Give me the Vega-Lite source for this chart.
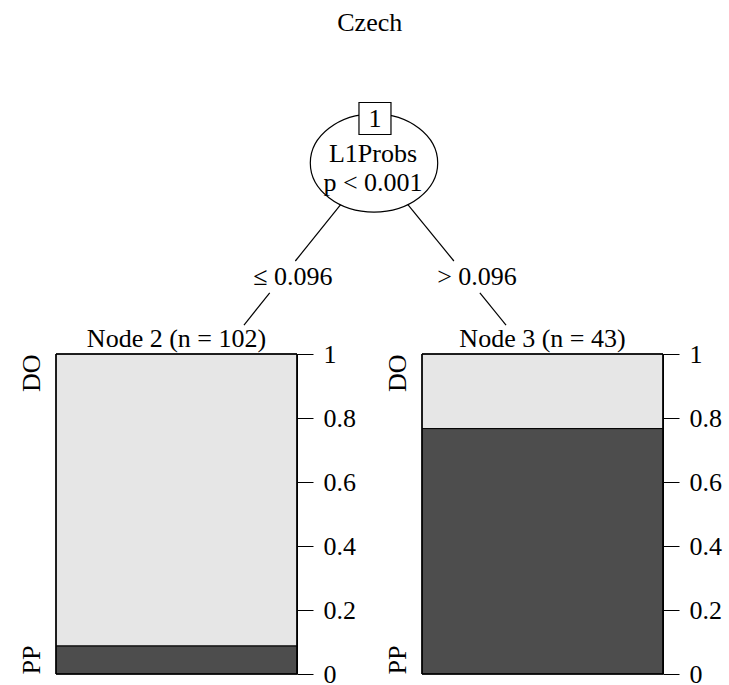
{
  "$schema": "https://vega.github.io/schema/vega-lite/v6.json",
  "padding": {"left": 18, "top": 10, "right": 5, "bottom": 0},
  "background": "white",
  "title": {
    "text": "Czech",
    "font": "Liberation Serif",
    "fontSize": 26,
    "fontWeight": "normal",
    "color": "black",
    "anchor": "middle",
    "offset": 60
  },
  "bounds": "flush",
  "spacing": 18,
  "vconcat": [
    {
      "width": 607,
      "height": 240,
      "layer": [
        {
          "data": {
            "values": [
              {"x1": 0.5239, "y1": 0.2792, "x2": 0.3943, "y2": 0.6875},
              {"x1": 0.3521, "y1": 0.8208, "x2": 0.3097, "y2": 0.9542},
              {"x1": 0.5239, "y1": 0.2792, "x2": 0.6555, "y2": 0.6875},
              {"x1": 0.6983, "y1": 0.8208, "x2": 0.7414, "y2": 0.9542}
            ]
          },
          "mark": {"type": "rule", "color": "black", "strokeWidth": 1.2},
          "encoding": {
            "x": {"field": "x1", "type": "quantitative", "scale": {"domain": [0, 1], "nice": false}, "axis": null},
            "y": {"field": "y1", "type": "quantitative", "scale": {"domain": [0, 1], "nice": false, "reverse": true}, "axis": null},
            "x2": {"field": "x2"},
            "y2": {"field": "y2"}
          }
        },
        {
          "data": {"values": [{"x": 0.5239, "y": 0.2792}]},
          "mark": {
            "type": "point",
            "shape": "M -1 0 A 1 0.77 0 1 1 1 0 A 1 0.77 0 1 1 -1 0 Z",
            "size": 16231,
            "filled": true,
            "fill": "white",
            "stroke": "black",
            "strokeWidth": 1.2,
            "opacity": 1
          },
          "encoding": {
            "x": {"field": "x", "type": "quantitative"},
            "y": {"field": "y", "type": "quantitative"}
          }
        },
        {
          "data": {"values": [{"x": 0.5255, "y": 0.0938}]},
          "mark": {
            "type": "point",
            "shape": "square",
            "size": 1024,
            "filled": true,
            "fill": "white",
            "stroke": "black",
            "strokeWidth": 1.2,
            "opacity": 1
          },
          "encoding": {
            "x": {"field": "x", "type": "quantitative"},
            "y": {"field": "y", "type": "quantitative"}
          }
        },
        {
          "data": {
            "values": [
              {"label": "1", "x": 0.5255, "y": 0.0938},
              {"label": "L1Probs", "x": 0.5222, "y": 0.2417},
              {"label": "p < 0.001", "x": 0.5222, "y": 0.3625},
              {"label": "≤ 0.096", "x": 0.3904, "y": 0.7542},
              {"label": "> 0.096", "x": 0.6936, "y": 0.7542}
            ]
          },
          "mark": {
            "type": "text",
            "font": "Liberation Serif",
            "fontSize": 26,
            "color": "black",
            "align": "center",
            "baseline": "middle"
          },
          "encoding": {
            "x": {"field": "x", "type": "quantitative"},
            "y": {"field": "y", "type": "quantitative"},
            "text": {"field": "label"}
          }
        }
      ]
    },
    {
      "bounds": "flush",
      "spacing": 125,
      "hconcat": [
        {
          "width": 241,
          "height": 320,
          "title": {"text": "Node 2 (n = 102)", "frame": "group", "anchor": "middle", "offset": -11},
          "data": {
            "values": [
              {"node": "Node 2", "cls": "PP", "p": 0.088},
              {"node": "Node 2", "cls": "DO", "p": 0.912}
            ]
          },
          "layer": [
            {
              "mark": {"type": "bar", "stroke": "black", "strokeWidth": 1},
              "encoding": {
                "x": {"field": "node", "type": "nominal", "axis": null, "scale": {"paddingInner": 0, "paddingOuter": 0}},
                "y": {
                  "field": "p",
                  "type": "quantitative",
                  "stack": "zero",
                  "scale": {"domain": [0, 1], "nice": false},
                  "axis": {"orient": "right", "values": [0, 0.2, 0.4, 0.6, 0.8, 1], "format": "~g", "tickSize": 16, "labelPadding": 10, "title": null}
                },
                "color": {"field": "cls", "type": "nominal", "scale": {"domain": ["PP", "DO"], "range": ["#4D4D4D", "#E6E6E6"]}, "legend": null},
                "order": {"field": "cls", "sort": "descending"}
              }
            },
            {
              "mark": {"type": "rect", "fill": "transparent", "stroke": "black", "strokeWidth": 1},
              "encoding": {
                "x": {"field": "node", "type": "nominal", "axis": null},
                "y": {
                  "datum": 0,
                  "type": "quantitative",
                  "axis": {
                    "orient": "left",
                    "values": [0, 1],
                    "labelExpr": "datum.value == 1 ? 'DO' : 'PP'",
                    "labelAngle": 270,
                    "labelAlign": {"condition": {"test": "datum.value == 1", "value": "right"}, "value": "left"},
                    "labelBaseline": "bottom",
                    "ticks": false,
                    "domain": false,
                    "labelPadding": 12,
                    "title": null
                  }
                },
                "y2": {"datum": 1}
              }
            }
          ],
          "resolve": {"axis": {"y": "independent"}}
        },
        {
          "width": 241,
          "height": 320,
          "title": {"text": "Node 3 (n = 43)", "frame": "group", "anchor": "middle", "offset": -11},
          "data": {
            "values": [
              {"node": "Node 3", "cls": "PP", "p": 0.767},
              {"node": "Node 3", "cls": "DO", "p": 0.233}
            ]
          },
          "layer": [
            {
              "mark": {"type": "bar", "stroke": "black", "strokeWidth": 1},
              "encoding": {
                "x": {"field": "node", "type": "nominal", "axis": null, "scale": {"paddingInner": 0, "paddingOuter": 0}},
                "y": {
                  "field": "p",
                  "type": "quantitative",
                  "stack": "zero",
                  "scale": {"domain": [0, 1], "nice": false},
                  "axis": {"orient": "right", "values": [0, 0.2, 0.4, 0.6, 0.8, 1], "format": "~g", "tickSize": 16, "labelPadding": 10, "title": null}
                },
                "color": {"field": "cls", "type": "nominal", "scale": {"domain": ["PP", "DO"], "range": ["#4D4D4D", "#E6E6E6"]}, "legend": null},
                "order": {"field": "cls", "sort": "descending"}
              }
            },
            {
              "mark": {"type": "rect", "fill": "transparent", "stroke": "black", "strokeWidth": 1},
              "encoding": {
                "x": {"field": "node", "type": "nominal", "axis": null},
                "y": {
                  "datum": 0,
                  "type": "quantitative",
                  "axis": {
                    "orient": "left",
                    "values": [0, 1],
                    "labelExpr": "datum.value == 1 ? 'DO' : 'PP'",
                    "labelAngle": 270,
                    "labelAlign": {"condition": {"test": "datum.value == 1", "value": "right"}, "value": "left"},
                    "labelBaseline": "bottom",
                    "ticks": false,
                    "domain": false,
                    "labelPadding": 12,
                    "title": null
                  }
                },
                "y2": {"datum": 1}
              }
            }
          ],
          "resolve": {"axis": {"y": "independent"}}
        }
      ]
    }
  ],
  "config": {
    "view": {"stroke": null},
    "axis": {
      "grid": false,
      "domainColor": "black",
      "domainWidth": 1,
      "tickColor": "black",
      "tickWidth": 1,
      "labelColor": "black",
      "labelFont": "Liberation Serif",
      "labelFontSize": 26,
      "labelOverlap": false,
      "labelBound": false,
      "labelFlush": false
    },
    "title": {"font": "Liberation Serif", "fontSize": 26, "fontWeight": "normal", "color": "black"}
  }
}
